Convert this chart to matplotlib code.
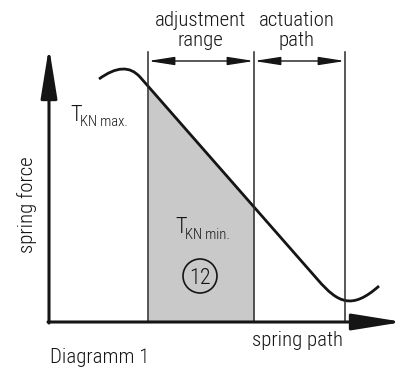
import matplotlib
matplotlib.use('Agg')
import matplotlib.pyplot as plt
from matplotlib.path import Path
from matplotlib.patches import PathPatch, Circle

plt.rcParams['font.family'] = ['Roboto Condensed', 'DejaVu Sans']
plt.rcParams['font.stretch'] = 'condensed'
plt.rcParams['font.weight'] = 'light'

# characteristic curve: spring path vs spring force (diagram units)
curve_x = [50, 76, 91, 269, 289, 303, 330]
curve_y = [243, 262, 245, 42, 19, 12, 36]
curve_codes = [Path.MOVETO, Path.CURVE3, Path.CURVE3, Path.LINETO,
               Path.CURVE4, Path.CURVE4, Path.CURVE4]

# adjustment range (shaded) and actuation path limits
range_x = [99, 205]
range_force = [236, 115]
actuation_end = 296
marker_top = 270
dim_y = 261

axis_x_end = 354
axis_y_end = 275

ink = '#151515'

fig = plt.figure(figsize=(4.06, 3.67), dpi=100)
ax = fig.add_axes([0, 0, 1, 1])
ax.set_xlim(-49, 357)
ax.set_ylim(-45, 322)
ax.axis('off')

# shaded adjustment range under the curve
ax.fill_between(range_x, 0, range_force, color='#c9c9c9', lw=0)

# vertical limit lines
for xv in range_x + [actuation_end]:
    ax.plot([xv, xv], [0, marker_top], color='#2a2a2a', lw=1.1)

# dimension arrows
dim = dict(arrowstyle='<|-|>,head_length=1.6,head_width=0.25',
           color=ink, lw=1.0, shrinkA=0, shrinkB=0, mutation_scale=10)
ax.annotate('', xy=(range_x[0], dim_y), xytext=(range_x[1], dim_y), arrowprops=dim)
ax.annotate('', xy=(range_x[1], dim_y), xytext=(actuation_end, dim_y), arrowprops=dim)

# curve
verts = list(zip(curve_x, curve_y))
ax.add_patch(PathPatch(Path(verts, curve_codes), fill=False, ec=ink, lw=2.0,
                       capstyle='butt'))

# axes with arrows
axis_arrow = dict(arrowstyle='-|>,head_length=3.1,head_width=0.5',
                  color=ink, lw=2.2, shrinkA=0, shrinkB=0, mutation_scale=10)
ax.annotate('', xy=(axis_x_end, 0), xytext=(-1, 0), arrowprops=axis_arrow)
ax.annotate('', xy=(0, axis_y_end), xytext=(0, -1), arrowprops=axis_arrow)

fs = 15
sub = 10.5
ax.text(151, 296, 'adjustment', ha='center', va='baseline', fontsize=fs, color=ink)
ax.text(151, 276, 'range', ha='center', va='baseline', fontsize=fs, color=ink)
ax.text(248, 296, 'actuation', ha='center', va='baseline', fontsize=fs, color=ink)
ax.text(248, 276, 'path', ha='center', va='baseline', fontsize=fs, color=ink)

ax.text(21, 201, 'T', ha='left', va='baseline', fontsize=fs + 1, color=ink)
ax.text(31, 196, 'KN max.', ha='left', va='baseline', fontsize=sub, color=ink)
ax.text(126, 89, 'T', ha='left', va='baseline', fontsize=fs + 1, color=ink)
ax.text(136, 83, 'KN min.', ha='left', va='baseline', fontsize=sub, color=ink)

ax.add_patch(Circle((151, 46), 17, fill=False, ec=ink, lw=1.2))
ax.text(151, 46, '12', ha='center', va='center_baseline', fontsize=fs + 1, color=ink)

ax.text(-22, 117, 'spring force', rotation=90, ha='center', va='center',
        fontsize=fs, color=ink)
ax.text(203, -24, 'spring path', ha='left', va='baseline', fontsize=fs, color=ink)
ax.text(1, -41, 'Diagramm 1', ha='left', va='baseline', fontsize=fs, color=ink)

fig.savefig('out.png', dpi=100)
